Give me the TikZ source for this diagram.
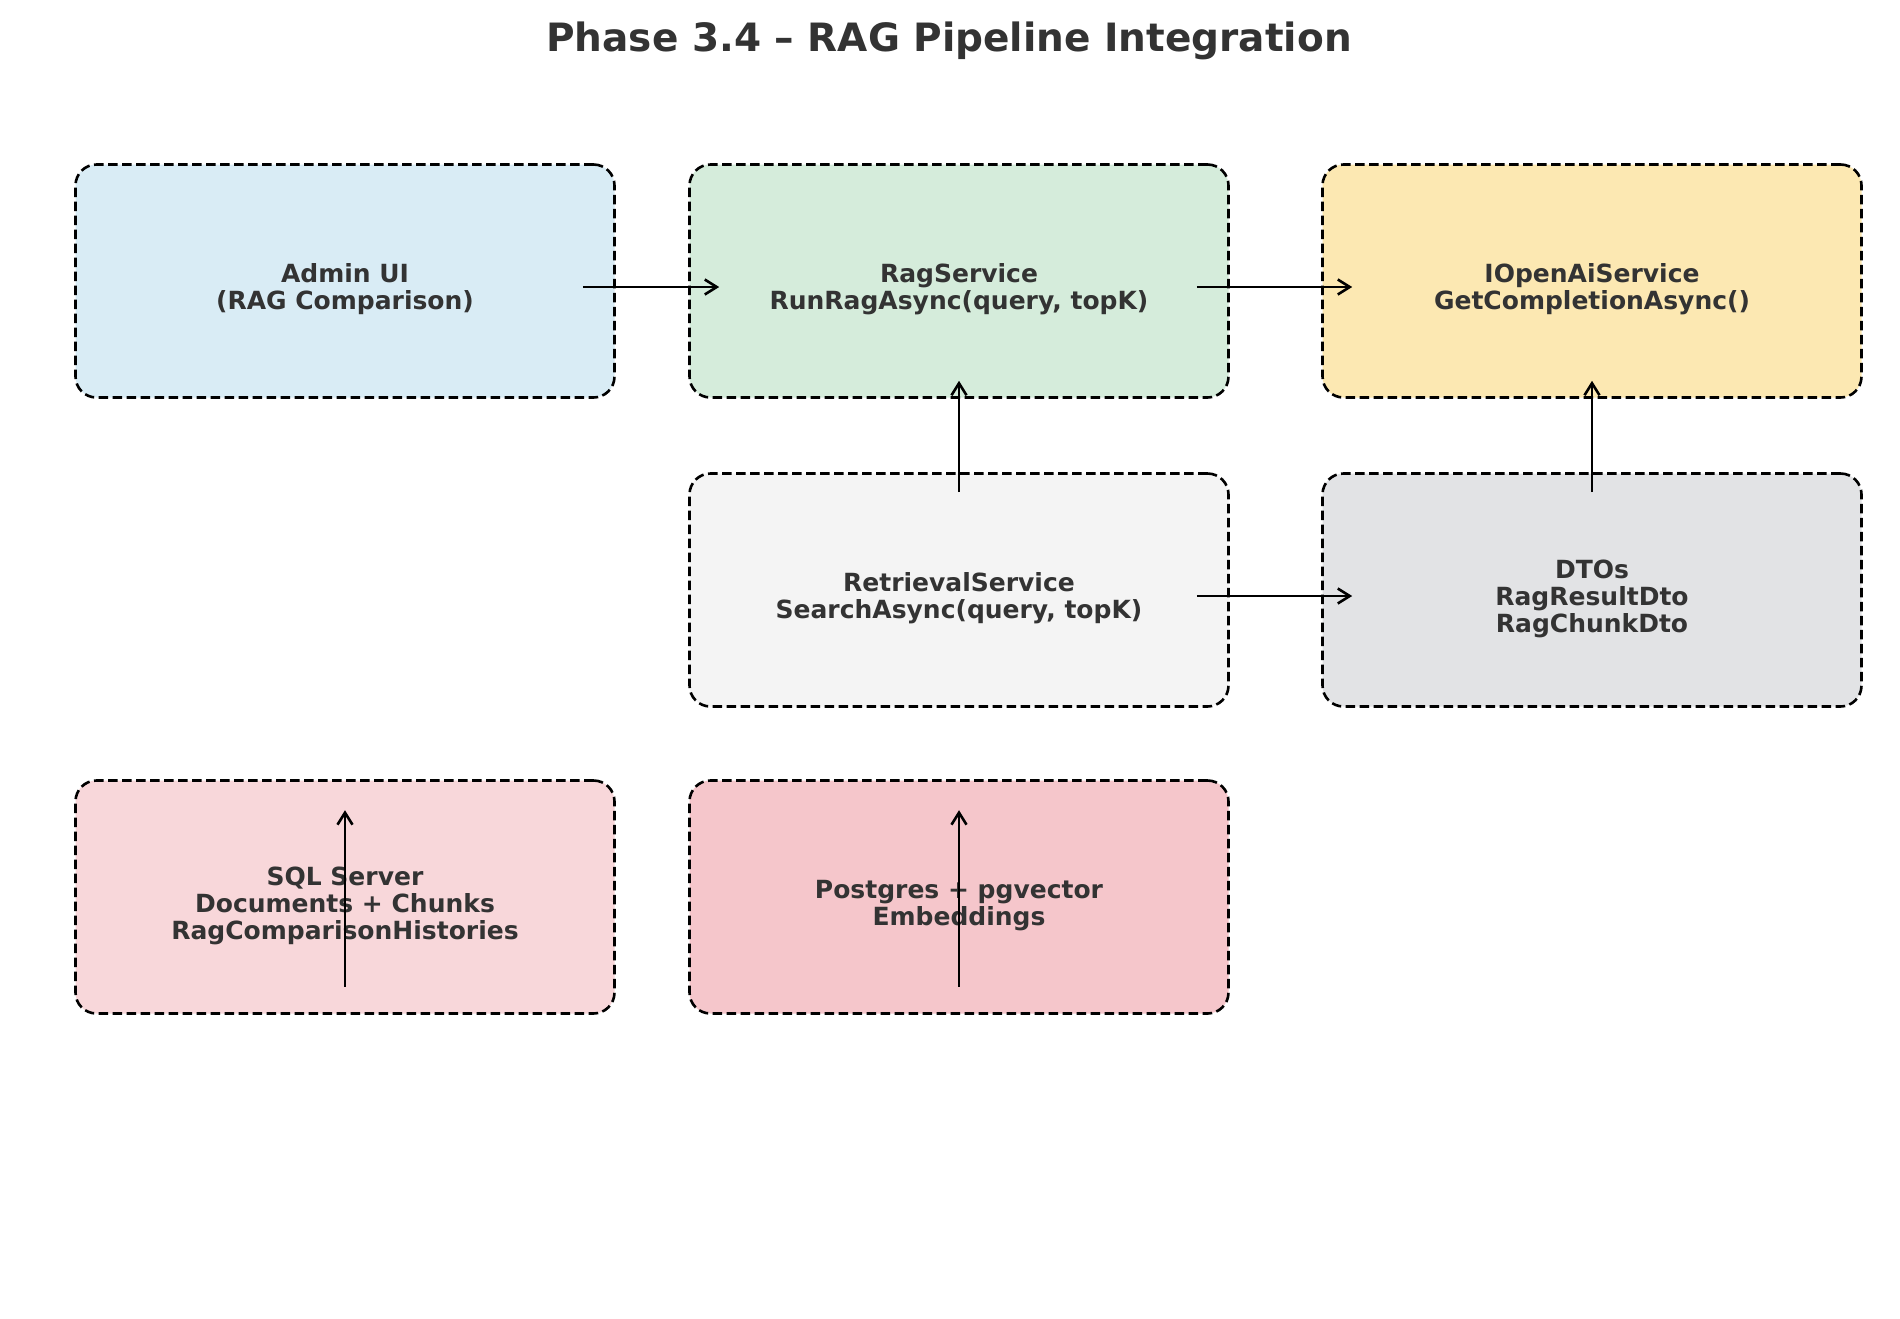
\documentclass[tikz,border=0pt]{standalone}
\usepackage{fontspec}
\setmainfont{DejaVu Sans}
\usetikzlibrary{arrows.meta}

\definecolor{txtgray}{HTML}{333333}
\definecolor{uiblue}{HTML}{D9ECF5}
\definecolor{svcgreen}{HTML}{D5ECDB}
\definecolor{aiyellow}{HTML}{FCE8B2}
\definecolor{retrgray}{HTML}{F4F4F4}
\definecolor{dtogray}{HTML}{E2E3E5}
\definecolor{sqlpink}{HTML}{F8D7DA}
\definecolor{pgpink}{HTML}{F5C6CB}

% lowers a box label a little below the box centre
\newcommand{\topgap}{\rule{0pt}{36pt}}

\begin{document}
\begin{tikzpicture}[x=1pt,y=-1pt]

      \fill[white] (0,0) rectangle (1900,1318);
      \node[font=\fontsize{39}{46}\selectfont\bfseries, text=txtgray] (title) at (949,41)
        {Phase 3.4 – RAG Pipeline Integration};

      \begin{scope}[every node/.style={rectangle, draw, rounded corners=21pt,
          line width=2.6pt, dash pattern=on 9.5pt off 4.5pt,
          minimum width=539pt, minimum height=233pt, align=center,
          font=\fontsize{25}{27}\selectfont\bfseries, text=txtgray}]
        \node[fill=uiblue]   (admin) at (345,281) {\topgap Admin UI\\(RAG Comparison)};
        \node[fill=svcgreen] (rag)   at (959,281) {\topgap RagService\\RunRagAsync(query, topK)};
        \node[fill=aiyellow] (ai)    at (1592,281) {\topgap IOpenAiService\\GetCompletionAsync()};
        \node[fill=retrgray] (retr)  at (959,590) {\topgap RetrievalService\\SearchAsync(query, topK)};
        \node[fill=dtogray]  (dtos)  at (1592,590) {\topgap DTOs\\RagResultDto\\RagChunkDto};
        \node[fill=sqlpink]  (sql)   at (345,897) {\topgap SQL Server\\Documents + Chunks\\RagComparisonHistories};
        \node[fill=pgpink]   (pg)    at (959,897) {\topgap Postgres + pgvector\\Embeddings};
      \end{scope}

      \begin{scope}[every edge/.style={draw, line width=2.6pt,
          -{Straight Barb[length=12pt,width=15pt,line width=2.6pt]}}]
        \path ([xshift=-33pt,yshift=-6pt]admin.east) edge ([xshift=31pt,yshift=-6pt]rag.west);
        \path ([xshift=-33pt,yshift=-6pt]rag.east)   edge ([xshift=31pt,yshift=-6pt]ai.west);
        \path ([xshift=-33pt,yshift=-6pt]retr.east)  edge ([xshift=31pt,yshift=-6pt]dtos.west);
        \path ([yshift=-20pt]retr.north) edge ([yshift=18pt]rag.south);
        \path ([yshift=-20pt]dtos.north) edge ([yshift=18pt]ai.south);
        \path ([yshift=28pt]sql.south)   edge ([yshift=-31pt]sql.north);
        \path ([yshift=28pt]pg.south)    edge ([yshift=-31pt]pg.north);
      \end{scope}

    \end{tikzpicture}
\end{document}
